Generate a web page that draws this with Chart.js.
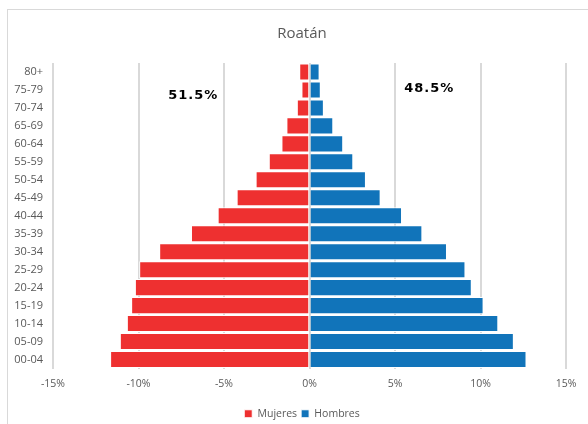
<!DOCTYPE html>
<html>
<head>
<meta charset="utf-8">
<script src="https://cdn.jsdelivr.net/npm/chart.js@4"></script>
<style>
body { margin:0; background:#fff; overflow:hidden; }
#wrap { position:relative; width:588px; height:424px; }
#frame { position:absolute; left:7px; top:9px; width:620px; height:440px; border:1px solid #d9d9d9; }
canvas { position:absolute; left:0; top:0; }
</style>
</head>
<body>
<div id="wrap">
<div id="frame"></div>
<canvas id="pyramid" width="588" height="424"></canvas>
</div>
<script>
const ageGroups = ["80+","75-79","70-74","65-69","60-64","55-59","50-54","45-49","40-44","35-39","30-34","25-29","20-24","15-19","10-14","05-09","00-04"]
const mujeres = [0.6,0.47,0.74,1.35,1.64,2.38,3.15,4.26,5.37,6.93,8.79,9.96,10.21,10.43,10.68,11.09,11.66]
const hombres = [0.59,0.66,0.84,1.39,1.97,2.56,3.3,4.16,5.41,6.6,8.04,9.12,9.49,10.18,11.04,11.95,12.69]
const xTicks = [-15,-10,-5,0,5,10,15]
const shares = ["51.5%","48.5%"]

// share labels, placed through the scales
const shareLabels = {
    id: "shareLabels",
    afterLayout(chart) {
        // title and legend sit a bit right of the canvas centre
        [chart.titleBlock, chart.legend].forEach(b => { b.left += 14; b.right += 14 })
    },
    afterDatasetsDraw(chart) {
        const ctx = chart.ctx
        const x = chart.scales.x
        const y = chart.scales.y
        ctx.save()
        ctx.fillStyle = "#000"
        ctx.font = "bold 13px 'DejaVu Sans'"
        ctx.textAlign = "center"
        ctx.textBaseline = "middle"
        ctx.letterSpacing = "1px"
        ctx.fillText(shares[0], x.getPixelForValue(-6.8), y.getPixelForValue(1.3))
        ctx.fillText(shares[1], x.getPixelForValue(7), y.getPixelForValue(0.9))
        ctx.restore()
    }
}

new Chart(document.getElementById("pyramid"), {
    type: "bar",
    data: {
        labels: ageGroups,
        datasets: [
            {
                label: "Mujeres",
                data: mujeres.map(v => -v),
                backgroundColor: "#EE3030",
                borderColor: "#ffffff",
                borderWidth: 1,
                barPercentage: 0.95,
                categoryPercentage: 1
            },
            {
                label: "Hombres",
                data: hombres,
                backgroundColor: "#1174BA",
                borderColor: "#ffffff",
                borderWidth: 1,
                barPercentage: 0.95,
                categoryPercentage: 1
            }
        ]
    },
    options: {
        indexAxis: "y",
        responsive: false,
        animation: false,
        layout: { padding: { left: 10, right: 22, top: 14, bottom: -5 } },
        scales: {
            x: {
                stacked: true,
                min: -15,
                max: 15,
                afterBuildTicks: axis => { axis.ticks = xTicks.map(v => ({ value: v })) },
                afterFit: axis => { axis.height = 36 },
                ticks: {
                    callback: v => v + "%",
                    color: "#595959",
                    font: { family: "'Open Sans'", size: 10.5 },
                    padding: 9,
                    maxRotation: 0
                },
                grid: { color: "#d9d9d9", lineWidth: 2, drawTicks: false },
                border: { display: false }
            },
            y: {
                stacked: true,
                afterFit: axis => { axis.width = 43 },
                ticks: {
                    color: "#595959",
                    font: { family: "'Open Sans'", size: 11 },
                    padding: 10
                },
                grid: { display: false, drawTicks: false },
                border: { display: false }
            }
        },
        plugins: {
            title: {
                display: true,
                text: "Roatán",
                color: "#595959",
                font: { family: "'Open Sans'", size: 15, weight: "normal" },
                padding: { top: 11, bottom: 20 }
            },
            legend: {
                position: "bottom",
                labels: {
                    boxWidth: 8,
                    boxHeight: 8,
                    color: "#595959",
                    font: { family: "'Open Sans'", size: 10.5 },
                    padding: 4
                }
            },
            tooltip: { enabled: false }
        }
    },
    plugins: [shareLabels]
})
</script>
</body>
</html>
